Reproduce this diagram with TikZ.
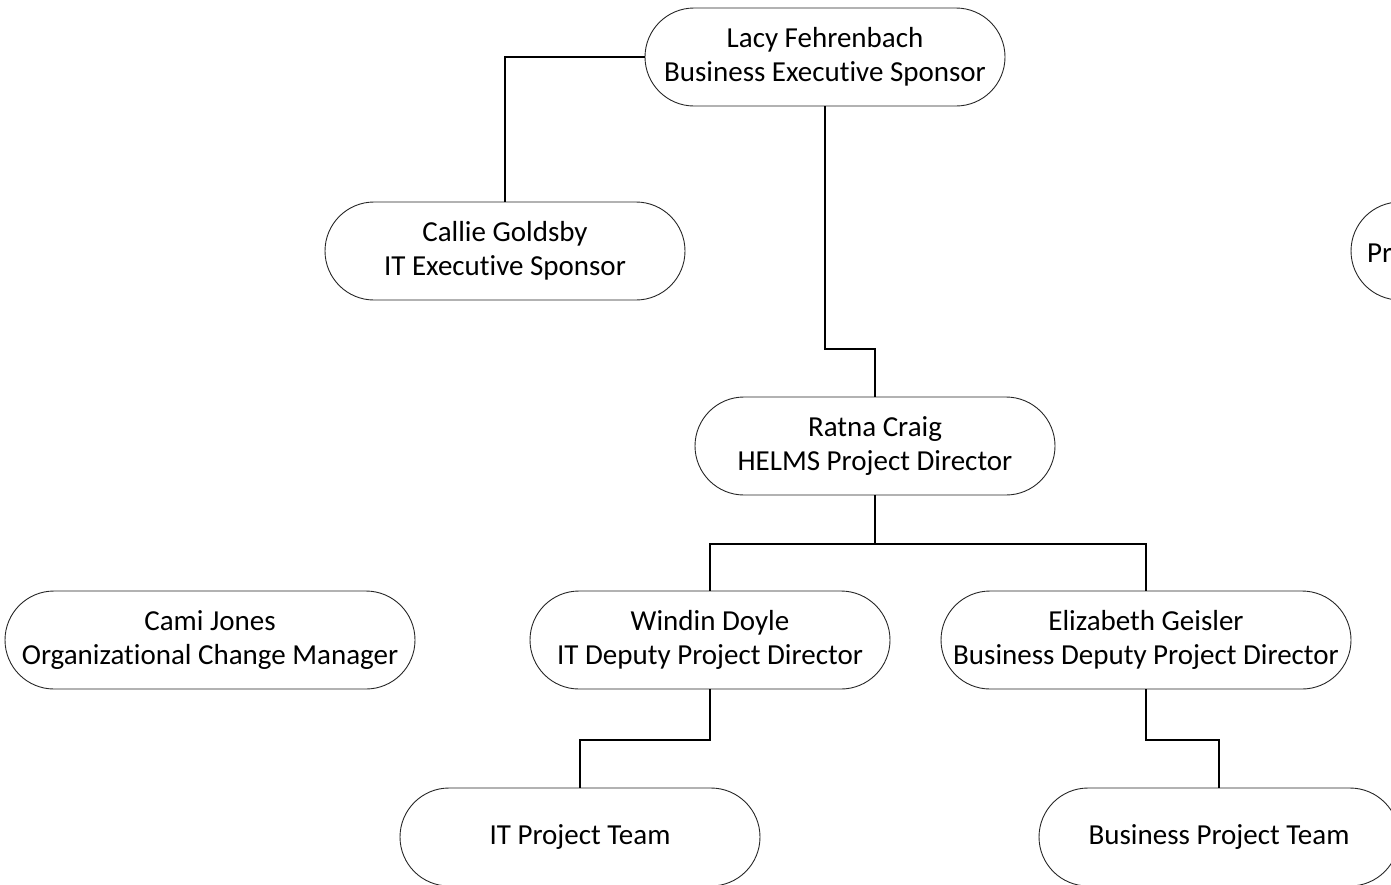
\documentclass[tikz,border=0pt]{standalone}
\usepackage{fontspec}
\setmainfont{Carlito}[Ligatures=NoCommon]
\begin{document}
\begin{tikzpicture}[x=1pt,y=-1pt,
  box/.style={draw=black!85,line width=0.9pt,rounded corners=49pt,minimum height=98pt,
    minimum width=360pt,inner sep=0pt,align=center,font=\fontsize{29}{34}\selectfont},
  wide/.style={box,minimum width=410pt},
  link/.style={line width=2.6pt,black}]
\useasboundingbox (0,0) rectangle (1391,884);
\clip (0,0) rectangle (1391,884);
\node[box] (lacy) at (825,57) {Lacy Fehrenbach\\Business Executive Sponsor};
\node[box] (callie) at (505,251) {Callie Goldsby\\IT Executive Sponsor};
\node[box] (pr) at (1531,251) {};
\node[anchor=west,inner sep=0pt,font=\fontsize{29}{34}\selectfont] (prt) at (1367,253) {Pr};
\node[box] (ratna) at (875,446) {Ratna Craig\\HELMS Project Director};
\node[wide] (cami) at (210,640) {Cami Jones\\Organizational Change Manager};
\node[box] (windin) at (710,640) {Windin Doyle\\IT Deputy Project Director};
\node[wide] (eliz) at (1146,640) {Elizabeth Geisler\\Business Deputy Project Director};
\node[box] (itteam) at (580,837) {IT Project Team};
\node[box] (bizteam) at (1219,837) {Business Project Team};
\coordinate (j1) at (875,544);
\draw[link] (lacy.west) -| (callie.north);
\draw[link] (lacy.south) -- (825,349) -| (ratna.north);
\draw[link] (ratna.south) -- (j1);
\draw[link] (j1) -| (windin.north);
\draw[link] (j1) -| (eliz.north);
\draw[link] (windin.south) -- (710,740) -| (itteam.north);
\draw[link] (eliz.south) -- (1146,740) -| (bizteam.north);
\end{tikzpicture}
\end{document}
